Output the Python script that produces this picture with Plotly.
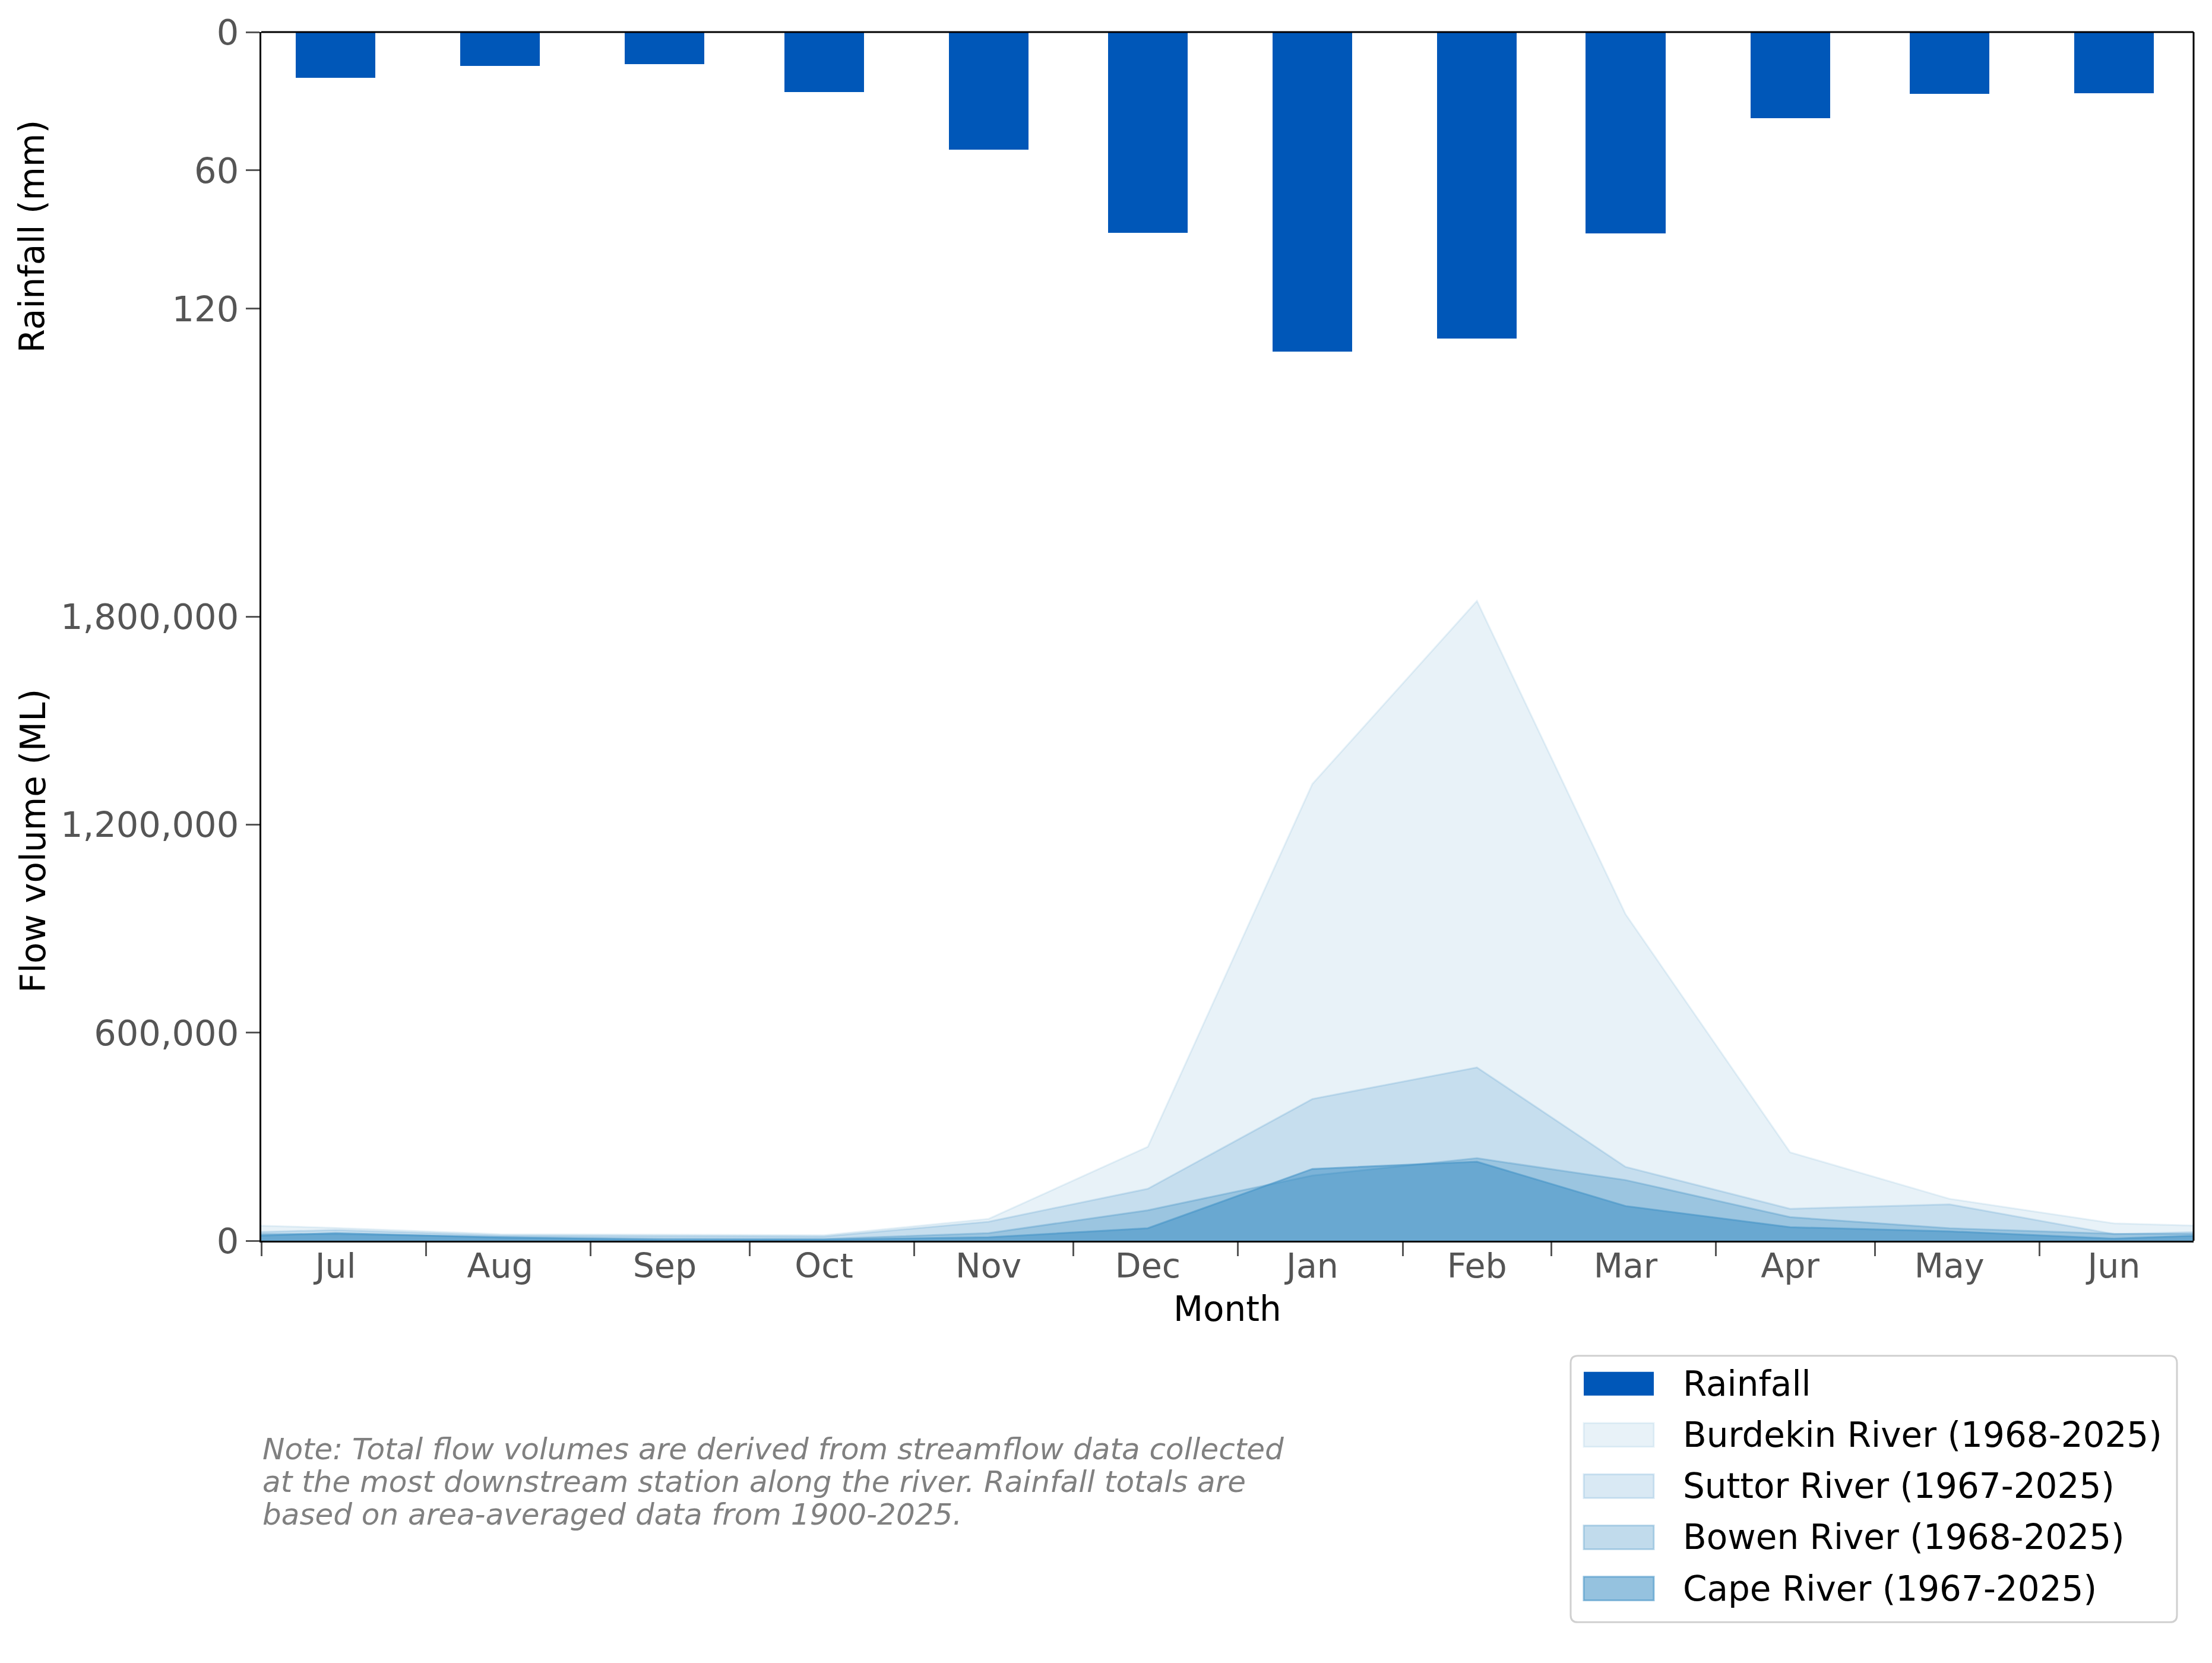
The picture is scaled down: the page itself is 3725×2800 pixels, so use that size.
import plotly.graph_objects as go

# month centres (15th) for a Jul-Jun water year
months = ["Jul", "Aug", "Sep", "Oct", "Nov", "Dec", "Jan", "Feb", "Mar", "Apr", "May", "Jun"]
month_dates = ["2024-07-15", "2024-08-15", "2024-09-15", "2024-10-15", "2024-11-15", "2024-12-15",
               "2025-01-15", "2025-02-15", "2025-03-15", "2025-04-15", "2025-05-15", "2025-06-15"]

# average monthly rainfall (mm)
rainfall_mm = [19.7, 14.6, 13.8, 26.1, 51.1, 87.1, 138.6, 132.9, 87.4, 37.3, 26.7, 26.4]

# average monthly flow volume (ML)
burdekin_ml = [37000, 19000, 17000, 16000, 63000, 271000, 1318000, 1846000, 942000, 255000, 121000, 50000]
suttor_ml = [31000, 15000, 14000, 12000, 55000, 150000, 409000, 500000, 213000, 92000, 105000, 19000]
bowen_ml = [19000, 11000, 6000, 5000, 22000, 88000, 188000, 238000, 175000, 68000, 36000, 20000]
cape_ml = [22000, 9000, 2000, 3000, 10000, 36000, 207000, 228000, 100000, 39000, 27000, 6000]

rivers = ["Burdekin River (1968-2025)", "Suttor River (1967-2025)",
          "Bowen River (1968-2025)", "Cape River (1967-2025)"]
river_values = [burdekin_ml, suttor_ml, bowen_ml, cape_ml]
river_alpha = [0.12, 0.20, 0.33, 0.56]

note = ["Note: Total flow volumes are derived from streamflow data collected",
        "at the most downstream station along the river. Rainfall totals are",
        "based on area-averaged data from 1900-2025."]

# page geometry (pixels on the page; the html body adds an 8px offset)
W, H = 3725, 2800
OFF = 8
L, R, T, B = 440, 3694, 52, 2089
SPLIT = 741
FONT = "DejaVu Sans"
RAIN_COL = "#0057b8"
BASE = "66,146,198"


def px_x(X):
    return (X - L) / (R - L)


def px_y(Y):
    return (B - Y) / (B - T)


split = px_y(SPLIT)

fig = go.Figure()

# flow areas, wrapped around the year so the edges continue into Jun/Jul
wrap_x = ["2024-06-15"] + month_dates + ["2025-07-15"]
for name, vals, a in zip(rivers, river_values, river_alpha):
    col = "rgba(%s,%s)" % (BASE, a)
    fig.add_trace(go.Scatter(
        x=wrap_x, y=[vals[-1]] + vals + [vals[0]],
        mode="lines", fill="tozeroy", fillcolor=col,
        line=dict(color=col, width=3),
        name=name, showlegend=False, yaxis="y",
    ))

fig.add_trace(go.Bar(
    x=month_dates, y=rainfall_mm, yaxis="y2",
    width=15 * 86400000, marker=dict(color=RAIN_COL, line=dict(width=0)),
    name="Rainfall", showlegend=False,
))

tick_style = dict(ticks="outside", ticklen=23, tickwidth=2.5, tickcolor="#555555",
                  tickfont=dict(family=FONT, size=59, color="#555555"),
                  showline=True, linecolor="black", linewidth=3,
                  showgrid=False, zeroline=False)

fig.update_layout(
    width=W, height=H,
    margin=dict(l=L - OFF, r=W - R + OFF, t=T - OFF, b=H - B + OFF),
    paper_bgcolor="white", plot_bgcolor="white",
    font=dict(family=FONT, color="black"),
    showlegend=False,
    bargap=0,
    xaxis=dict(
        type="date", range=["2024-07-01", "2025-06-30"],
        tickvals=month_dates, ticktext=months, ticks="",
        ticklabelstandoff=-9,
        tickfont=dict(family=FONT, size=57, color="#555555"),
        minor=dict(ticks="outside", ticklen=23, tickwidth=2.5, tickcolor="#555555",
                   dtick="M1", tick0="2024-07-01", showgrid=False),
        showline=True, linecolor="black", linewidth=3,
        showgrid=False, zeroline=False, anchor="y",
    ),
    yaxis=dict(domain=[0, split], range=[0, (B - SPLIT) * 1712],
               tickvals=[0, 600000, 1200000, 1800000], tickformat=",", anchor="x",
               **tick_style),
    yaxis2=dict(domain=[split, 1], range=[(SPLIT - T) / 3.887, 0],
                tickvals=[0, 60, 120], anchor="x", **tick_style),
)

# top and right frame
fig.add_shape(type="line", xref="paper", yref="paper", x0=0, x1=1, y0=1, y1=1,
              line=dict(color="black", width=3))
fig.add_shape(type="line", xref="paper", yref="paper", x0=1, x1=1, y0=0, y1=1,
              line=dict(color="black", width=3))

# axis titles
fig.add_annotation(text="Rainfall (mm)", xref="paper", yref="paper",
                   x=px_x(54), y=(split + 1) / 2, textangle=-90, showarrow=False,
                   xanchor="center", yanchor="middle",
                   font=dict(size=58, color="black"))
fig.add_annotation(text="Flow volume (ML)", xref="paper", yref="paper",
                   x=px_x(56), y=split / 2, textangle=-90, showarrow=False,
                   xanchor="center", yanchor="middle",
                   font=dict(size=58, color="black"))
fig.add_annotation(text="Month", xref="paper", yref="paper",
                   x=0.5, y=px_y(2204), showarrow=False,
                   xanchor="center", yanchor="middle",
                   font=dict(size=58, color="black"))

# note
for i, line in enumerate(note):
    fig.add_annotation(text="<i>%s</i>" % line, xref="paper", yref="paper",
                       x=0, y=px_y(2440 + 55 * i), xanchor="left", yanchor="middle",
                       showarrow=False, font=dict(size=50, color="#808080"))

# legend box (drawn by hand to get large swatches)
bx0, bx1, by0, by1, rad = 2645, 3666, 2283, 2732, 12
rx, ry = rad / (R - L), rad / (B - T)
x0, x1, y0, y1 = px_x(bx0), px_x(bx1), px_y(by1), px_y(by0)
path = ("M %f,%f L %f,%f Q %f,%f %f,%f L %f,%f Q %f,%f %f,%f L %f,%f Q %f,%f %f,%f "
        "L %f,%f Q %f,%f %f,%f Z") % (
    x0 + rx, y0, x1 - rx, y0, x1, y0, x1, y0 + ry, x1, y1 - ry, x1, y1, x1 - rx, y1,
    x0 + rx, y1, x0, y1, x0, y1 - ry, x0, y0 + ry, x0, y0, x0 + rx, y0)
fig.add_shape(type="path", path=path, xref="paper", yref="paper",
              line=dict(color="#d0d0d0", width=3), fillcolor="white", layer="below")

labels = ["Rainfall"] + rivers
fills = [RAIN_COL] + ["rgba(%s,%s)" % (BASE, a) for a in river_alpha]
for i, (lab, col) in enumerate(zip(labels, fills)):
    yc = 2330 + 86.3 * i
    fig.add_shape(type="rect", xref="paper", yref="paper",
                  x0=px_x(2667), x1=px_x(2785), y0=px_y(yc + 20), y1=px_y(yc - 20),
                  fillcolor=col, line=dict(color=col, width=0 if i == 0 else 3))
    fig.add_annotation(text=lab, xref="paper", yref="paper",
                       x=px_x(2832), y=px_y(yc), xanchor="left", yanchor="middle",
                       showarrow=False, font=dict(size=58, color="black"))

fig.write_html("out.html")
